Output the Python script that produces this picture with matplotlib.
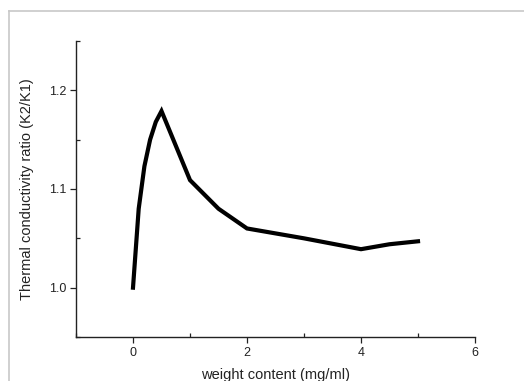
import matplotlib
matplotlib.use('Agg')
import matplotlib.pyplot as plt
from matplotlib.lines import Line2D
from matplotlib.ticker import MultipleLocator

plt.rcParams['font.family'] = ['Liberation Sans', 'DejaVu Sans']

# weight content (mg/ml) vs thermal conductivity ratio
weight = [0.0, 0.1, 0.2, 0.3, 0.4, 0.5, 1.0, 1.5, 2.0, 3.0, 4.0, 4.5, 5.0]
ratio = [1.0, 1.08, 1.123, 1.15, 1.168, 1.179, 1.109, 1.08, 1.06, 1.05, 1.039, 1.044, 1.047]

x_ticks = [0, 2, 4, 6]
y_ticks = [1.0, 1.1, 1.2]

W, H = 524, 381
fig = plt.figure(figsize=(W / 100, H / 100), dpi=100)
ax = fig.add_axes([76 / W, 1 - 337 / H, (475 - 76) / W, (337 - 41) / H])

ax.plot(weight, ratio, color='black', lw=3.0, solid_joinstyle='miter')

ax.set_xlim(-1, 6)
ax.set_ylim(0.95, 1.25)
ax.set_xticks(x_ticks)
ax.set_yticks(y_ticks)
ax.set_yticklabels(['1.0', '1.1', '1.2'])
ax.xaxis.set_minor_locator(MultipleLocator(1))
ax.yaxis.set_minor_locator(MultipleLocator(0.05))
ax.tick_params(which='major', direction='out', length=4, width=0.9,
               labelsize=9, colors='#222222', pad=3)
ax.tick_params(which='minor', direction='in', length=3, width=0.9, colors='#222222')

for side in ['top', 'right']:
    ax.spines[side].set_visible(False)
for side in ['left', 'bottom']:
    ax.spines[side].set_linewidth(1.0)
    ax.spines[side].set_color('#222222')

ax.set_xlabel('weight content (mg/ml)', fontsize=10.5, color='#222222', labelpad=7)
ax.set_ylabel('Thermal conductivity ratio (K2/K1)', fontsize=10.5, color='#222222', labelpad=11)

# light gray frame around the picture
fig.add_artist(Line2D([8.5 / W, 8.5 / W], [0, 1 - 10.5 / H], transform=fig.transFigure,
                      color='#c8c8c8', lw=1.2))
fig.add_artist(Line2D([8.5 / W, 1], [1 - 10.5 / H, 1 - 10.5 / H], transform=fig.transFigure,
                      color='#c8c8c8', lw=1.2))

fig.savefig('out.png', dpi=100, facecolor='white')
